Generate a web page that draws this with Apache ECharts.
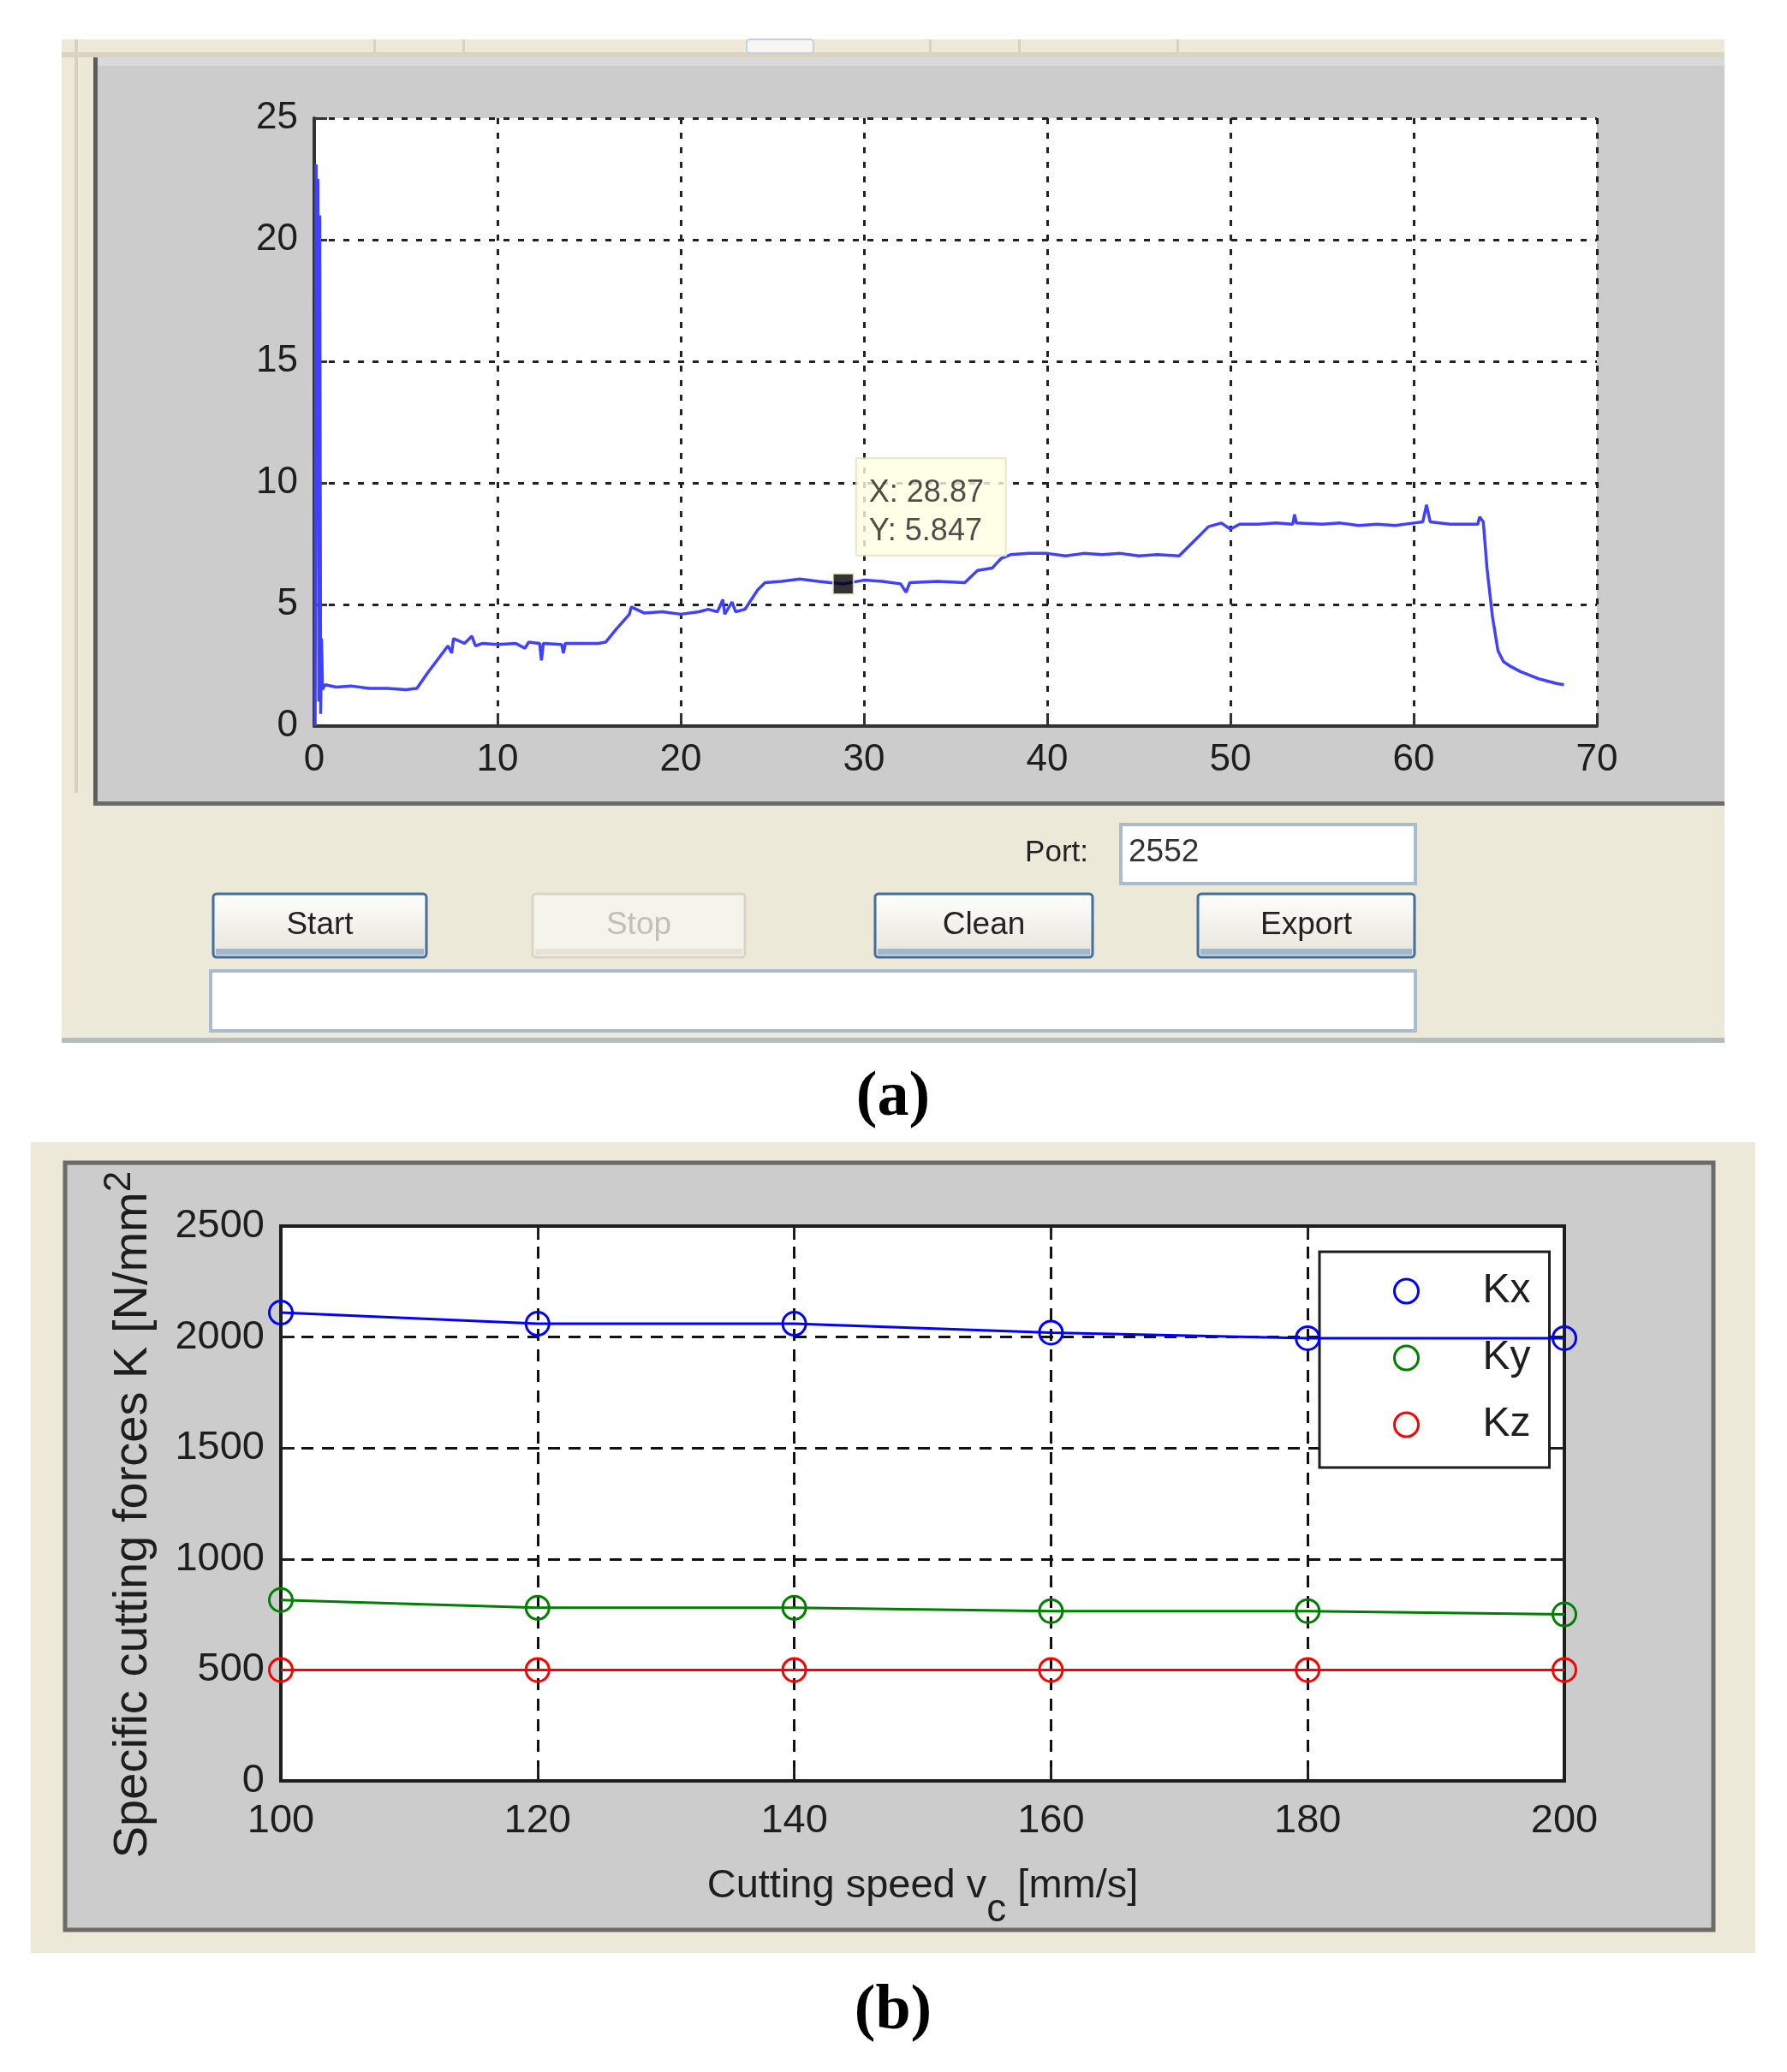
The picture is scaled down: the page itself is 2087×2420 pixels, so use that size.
<!DOCTYPE html>
<html>
<head>
<meta charset="utf-8">
<script src="https://cdn.jsdelivr.net/npm/echarts@6/dist/echarts.min.js"></script>
<style>
  html, body { margin: 0; padding: 0; background: #fff; }
  #chart { width: 2087px; height: 2420px; }
</style>
</head>
<body>
<div id="chart"></div>
<script>
// (a) live force signal, time [s] vs force
const timeA = [0.05, 0.1, 0.15, 0.2, 0.25, 0.3, 0.35, 0.4, 0.45, 0.6, 1.2, 2, 3, 4, 5, 5.6,
  6.2, 6.8, 7.3, 7.5, 7.6, 8.2, 8.6, 8.8, 9.2, 10, 11, 11.5, 11.7, 12.3, 12.4, 12.5, 13.5, 13.6, 13.7, 15.5, 15.9,
  16.5, 17.2, 17.3, 18, 19, 20, 21, 21.5, 22, 22.3, 22.4, 22.8, 23, 23.5, 24.2, 24.6,
  25.5, 26.5, 27.5, 28.87, 30, 31, 32, 32.3, 32.5, 34, 35.5, 36.2, 37, 37.5, 38,
  39, 40, 41, 42, 43, 44, 45, 46, 47.2, 48, 48.8, 49.5, 50, 50.5, 51.5, 52.5, 53.4, 53.5, 53.6,
  55, 56, 57, 58, 59, 60, 60.5, 60.7, 60.9, 62, 63.5, 63.6, 63.8, 64.0, 64.3, 64.6, 64.9, 65.3,
  65.8, 66.3, 66.8, 67.3, 67.8, 68.2];
const forceA = [0, 23.1, 20, 22.5, 1, 21, 0.5, 3.6, 1.5, 1.7, 1.6, 1.65, 1.55, 1.55, 1.5, 1.55,
  2.2, 2.8, 3.3, 3.0, 3.6, 3.4, 3.7, 3.3, 3.4, 3.35, 3.4, 3.2, 3.45, 3.4, 2.7, 3.4, 3.35, 3.0, 3.4, 3.4, 3.45,
  4.0, 4.6, 4.9, 4.65, 4.7, 4.6, 4.7, 4.8, 4.7, 5.2, 4.6, 5.1, 4.7, 4.8, 5.6, 5.9,
  5.95, 6.05, 5.95, 5.847, 6.0, 5.95, 5.85, 5.5, 5.9, 5.95, 5.9, 6.4, 6.5, 6.9, 7.05,
  7.1, 7.1, 7.0, 7.1, 7.05, 7.1, 7.0, 7.05, 7.0, 7.6, 8.2, 8.35, 8.1, 8.3, 8.3, 8.35, 8.3, 8.7, 8.35,
  8.3, 8.35, 8.25, 8.3, 8.25, 8.35, 8.4, 9.1, 8.4, 8.3, 8.3, 8.6, 8.4, 6.5, 4.5, 3.1, 2.65, 2.45,
  2.25, 2.1, 1.95, 1.85, 1.75, 1.7];
const tipX = 28.87;
const tipY = 5.847;

// (b) specific cutting forces vs cutting speed
const speeds = [100, 120, 140, 160, 180, 200];
const kx = [2110, 2060, 2060, 2020, 1995, 1995];
const ky = [815, 780, 780, 765, 765, 750];
const kz = [500, 500, 500, 500, 500, 500];
const seriesNames = ['Kx', 'Ky', 'Kz'];
const seriesColors = ['#0000ff', '#008000', '#ff0000'];

const sans = "'Liberation Sans', Arial, sans-serif";
const beige = '#ece9d8';
const figGray = '#cccccc';
const ink = '#1e1e1e';

function pairs(xs, ys) {
  return xs.map((x, i) => [x, ys[i]]);
}

function plain(v) {
  return String(v);
}

function button(x, y, w, h, label, enabled) {
  return {
    type: 'group', x: x, y: y,
    children: [
      {
        type: 'rect',
        shape: { x: 0, y: 0, width: w, height: h, r: 4 },
        style: {
          fill: enabled ? {
            type: 'linear', x: 0, y: 0, x2: 0, y2: 1,
            colorStops: [{ offset: 0, color: '#ffffff' }, { offset: 1, color: '#e6e3d8' }]
          } : '#f4f3ec',
          stroke: enabled ? '#41709e' : '#d8d5c6',
          lineWidth: 3
        }
      },
      {
        type: 'rect',
        shape: { x: 3, y: h - 10, width: w - 6, height: 7 },
        style: { fill: enabled ? '#a3b5c8' : '#e6e3d6' }
      },
      {
        type: 'text',
        x: w / 2, y: h / 2,
        style: {
          text: label, fontSize: 37, fontFamily: sans,
          fill: enabled ? '#222' : '#c2c0b2',
          align: 'center', verticalAlign: 'middle'
        }
      }
    ]
  };
}

function editBox(x, y, w, h) {
  return {
    type: 'rect',
    shape: { x: x, y: y, width: w, height: h },
    style: { fill: '#fff', stroke: '#a9bccf', lineWidth: 4 }
  };
}

const chart = echarts.init(document.getElementById('chart'));

const option = {
  animation: false,
  backgroundColor: '#fff',
  graphic: [
    // window of (a)
    { type: 'rect', z: -10, shape: { x: 72, y: 46, width: 1942, height: 1172 }, style: { fill: beige } },
    { type: 'rect', z: -9, shape: { x: 72, y: 61, width: 1942, height: 6 }, style: { fill: '#d8d4bf' } },
    { type: 'rect', z: -9, shape: { x: 872, y: 46, width: 78, height: 16, r: 4 }, style: { fill: '#f6f6f2', stroke: '#c4d0dc', lineWidth: 2 } },
    { type: 'rect', z: -9, shape: { x: 436, y: 46, width: 3, height: 16 }, style: { fill: '#d6d3c2' } },
    { type: 'rect', z: -9, shape: { x: 540, y: 46, width: 3, height: 16 }, style: { fill: '#d6d3c2' } },
    { type: 'rect', z: -9, shape: { x: 1085, y: 46, width: 3, height: 16 }, style: { fill: '#d6d3c2' } },
    { type: 'rect', z: -9, shape: { x: 1189, y: 46, width: 3, height: 16 }, style: { fill: '#d6d3c2' } },
    { type: 'rect', z: -9, shape: { x: 1374, y: 46, width: 3, height: 16 }, style: { fill: '#d6d3c2' } },
    { type: 'rect', z: -9, shape: { x: 87, y: 46, width: 4, height: 880 }, style: { fill: '#d6d2be' } },
    { type: 'rect', z: -9, shape: { x: 110, y: 67, width: 1904, height: 873 }, style: { fill: figGray } },
    { type: 'rect', z: -8, shape: { x: 110, y: 67, width: 1904, height: 10 }, style: { fill: '#d9d9d9' } },
    { type: 'rect', z: -8, shape: { x: 109, y: 67, width: 5, height: 874 }, style: { fill: '#5c5c5a' } },
    { type: 'rect', z: -8, shape: { x: 109, y: 936, width: 1905, height: 5 }, style: { fill: '#6a6a66' } },
    { type: 'rect', z: -8, shape: { x: 72, y: 1212, width: 1942, height: 6 }, style: { fill: '#b5bcbc' } },
    // controls of (a)
    {
      type: 'text', x: 1271, y: 996,
      style: { text: 'Port:', fontSize: 35, fontFamily: sans, fill: '#222', align: 'right', verticalAlign: 'middle' }
    },
    editBox(1309, 963, 344, 69),
    {
      type: 'text', x: 1318, y: 996,
      style: { text: '2552', fontSize: 37, fontFamily: sans, fill: '#333', align: 'left', verticalAlign: 'middle' }
    },
    button(249, 1044, 249, 74, 'Start', true),
    button(622, 1044, 248, 74, 'Stop', false),
    button(1022, 1044, 254, 74, 'Clean', true),
    button(1399, 1044, 253, 74, 'Export', true),
    editBox(246, 1134, 1407, 70),
    {
      type: 'text', x: 1043, y: 1283,
      style: { text: '(a)', fontSize: 74, fontWeight: 'bold', fontFamily: "'Liberation Serif', serif", fill: '#000', align: 'center', verticalAlign: 'middle' }
    },
    // window of (b)
    { type: 'rect', z: -10, shape: { x: 36, y: 1334, width: 2014, height: 947 }, style: { fill: beige } },
    { type: 'rect', z: -9, shape: { x: 76, y: 1358, width: 1925, height: 896 }, style: { fill: figGray, stroke: '#6b6b68', lineWidth: 5 } },
    {
      type: 'text', x: 1043, y: 2350,
      style: { text: '(b)', fontSize: 74, fontWeight: 'bold', fontFamily: "'Liberation Serif', serif", fill: '#000', align: 'center', verticalAlign: 'middle' }
    }
  ],
  grid: [
    { left: 367, top: 138, width: 1498, height: 710, show: true, backgroundColor: '#fff', borderWidth: 0 },
    { left: 328, top: 1432, width: 1499, height: 648, show: true, backgroundColor: '#fff', borderWidth: 4, borderColor: ink }
  ],
  xAxis: [
    {
      gridIndex: 0, type: 'value', min: 0, max: 70, interval: 10,
      axisLine: { show: true, onZero: false, lineStyle: { color: '#333', width: 4 } },
      axisTick: { show: true, inside: true, length: 15, lineStyle: { color: '#333', width: 3 } },
      axisLabel: { margin: 18, fontSize: 44, fontFamily: sans, color: ink, formatter: plain },
      splitLine: { show: true, lineStyle: { color: '#222', width: 3, type: [7, 10] } }
    },
    {
      gridIndex: 1, type: 'value', min: 100, max: 200, interval: 20,
      axisLine: { show: true, onZero: false, lineStyle: { color: ink, width: 4 } },
      axisTick: { show: true, inside: true, length: 16, lineStyle: { color: ink, width: 3 } },
      axisLabel: { margin: 24, fontSize: 47, fontFamily: sans, color: ink, formatter: plain },
      splitLine: { show: true, lineStyle: { color: '#111', width: 3, type: [14, 10] } },
      name: '{a|Cutting speed v}{s|c}{a| [mm/s]}',
      nameLocation: 'middle',
      nameGap: 54,
      nameTextStyle: {
        color: ink,
        rich: {
          a: { fontSize: 47, lineHeight: 52, fontFamily: sans, color: ink },
          s: { fontSize: 46, lineHeight: 52, fontFamily: sans, color: ink, padding: [56, 0, 0, 0] }
        }
      }
    },
    {
      gridIndex: 1, type: 'value', min: 100, max: 200, interval: 20, position: 'top',
      axisLine: { show: true, onZero: false, lineStyle: { color: ink, width: 4 } },
      axisTick: { show: true, inside: true, length: 16, lineStyle: { color: ink, width: 3 } },
      axisLabel: { show: false },
      splitLine: { show: false }
    }
  ],
  yAxis: [
    {
      gridIndex: 0, type: 'value', min: 0, max: 25, interval: 5,
      axisLine: { show: true, onZero: false, lineStyle: { color: '#333', width: 4 } },
      axisTick: { show: true, inside: true, length: 15, lineStyle: { color: '#333', width: 3 } },
      axisLabel: { margin: 19, fontSize: 44, fontFamily: sans, color: ink, formatter: plain },
      splitLine: { show: true, lineStyle: { color: '#222', width: 3, type: [7, 10] } }
    },
    {
      gridIndex: 1, type: 'value', min: 0, max: 2500, interval: 500,
      axisLine: { show: true, onZero: false, lineStyle: { color: ink, width: 4 } },
      axisTick: { show: true, inside: true, length: 16, lineStyle: { color: ink, width: 3 } },
      axisLabel: { margin: 19, fontSize: 47, fontFamily: sans, color: ink, formatter: plain },
      splitLine: { show: true, lineStyle: { color: '#111', width: 3, type: [14, 10] } },
      // the closing bracket is cut off by the figure edge in the original
      name: '{a|Specific cutting forces K [N/mm}{s|2}',
      nameLocation: 'middle',
      nameGap: 100,
      nameTextStyle: {
        color: ink,
        rich: {
          a: { fontSize: 56, lineHeight: 62, fontFamily: sans, color: ink },
          s: { fontSize: 44, lineHeight: 50, fontFamily: sans, color: ink, padding: [0, 26, 32, 0] }
        }
      }
    },
    {
      gridIndex: 1, type: 'value', min: 0, max: 2500, interval: 500, position: 'right',
      axisLine: { show: true, onZero: false, lineStyle: { color: ink, width: 4 } },
      axisTick: { show: true, inside: true, length: 16, lineStyle: { color: ink, width: 3 } },
      axisLabel: { show: false },
      splitLine: { show: false }
    }
  ],
  legend: {
    show: true,
    orient: 'vertical',
    left: 1541, top: 1462,
    padding: [22, 22, 26, 86],
    itemGap: 30,
    itemWidth: 28, itemHeight: 28,
    backgroundColor: '#fff',
    borderColor: ink, borderWidth: 3, borderRadius: 0,
    icon: 'circle',
    selectedMode: false,
    textStyle: { fontSize: 48, fontFamily: sans, color: ink, padding: [0, 0, 0, 70] },
    data: seriesNames.map((n, i) => ({
      name: n, icon: 'circle',
      itemStyle: { color: 'rgba(0,0,0,0)', borderColor: seriesColors[i], borderWidth: 3 }
    }))
  },
  series: [
    {
      type: 'line', name: 'force', xAxisIndex: 0, yAxisIndex: 0,
      data: pairs(timeA, forceA),
      symbol: 'none', showSymbol: false,
      lineStyle: { color: '#4040ff', width: 3.5 },
      z: 3
    },
    {
      type: 'scatter', name: 'datatip', xAxisIndex: 0, yAxisIndex: 0,
      data: [[tipX, tipY]],
      symbol: 'rect', symbolSize: 24,
      itemStyle: { color: '#000', borderColor: '#f2f0c8', borderWidth: 2 },
      label: {
        show: true,
        position: [29, -133],
        formatter: 'X: ' + tipX + '\nY: ' + tipY,
        fontSize: 36, fontFamily: sans, color: '#222',
        lineHeight: 45,
        backgroundColor: '#ffffe1',
        borderColor: '#e4e2c6', borderWidth: 2,
        padding: [18, 14, 4, 14],
        width: 145
      },
      z: 6
    }
  ].concat([kx, ky, kz].map((vals, i) => ({
    type: 'line', name: seriesNames[i], xAxisIndex: 1, yAxisIndex: 1,
    data: pairs(speeds, vals),
    symbol: 'circle', symbolSize: 27,
    clip: false,
    lineStyle: { color: seriesColors[i], width: 3 },
    itemStyle: { color: 'rgba(0,0,0,0)', borderColor: seriesColors[i], borderWidth: 3 },
    z: 4
  })))
};

chart.setOption(option);
</script>
</body>
</html>
